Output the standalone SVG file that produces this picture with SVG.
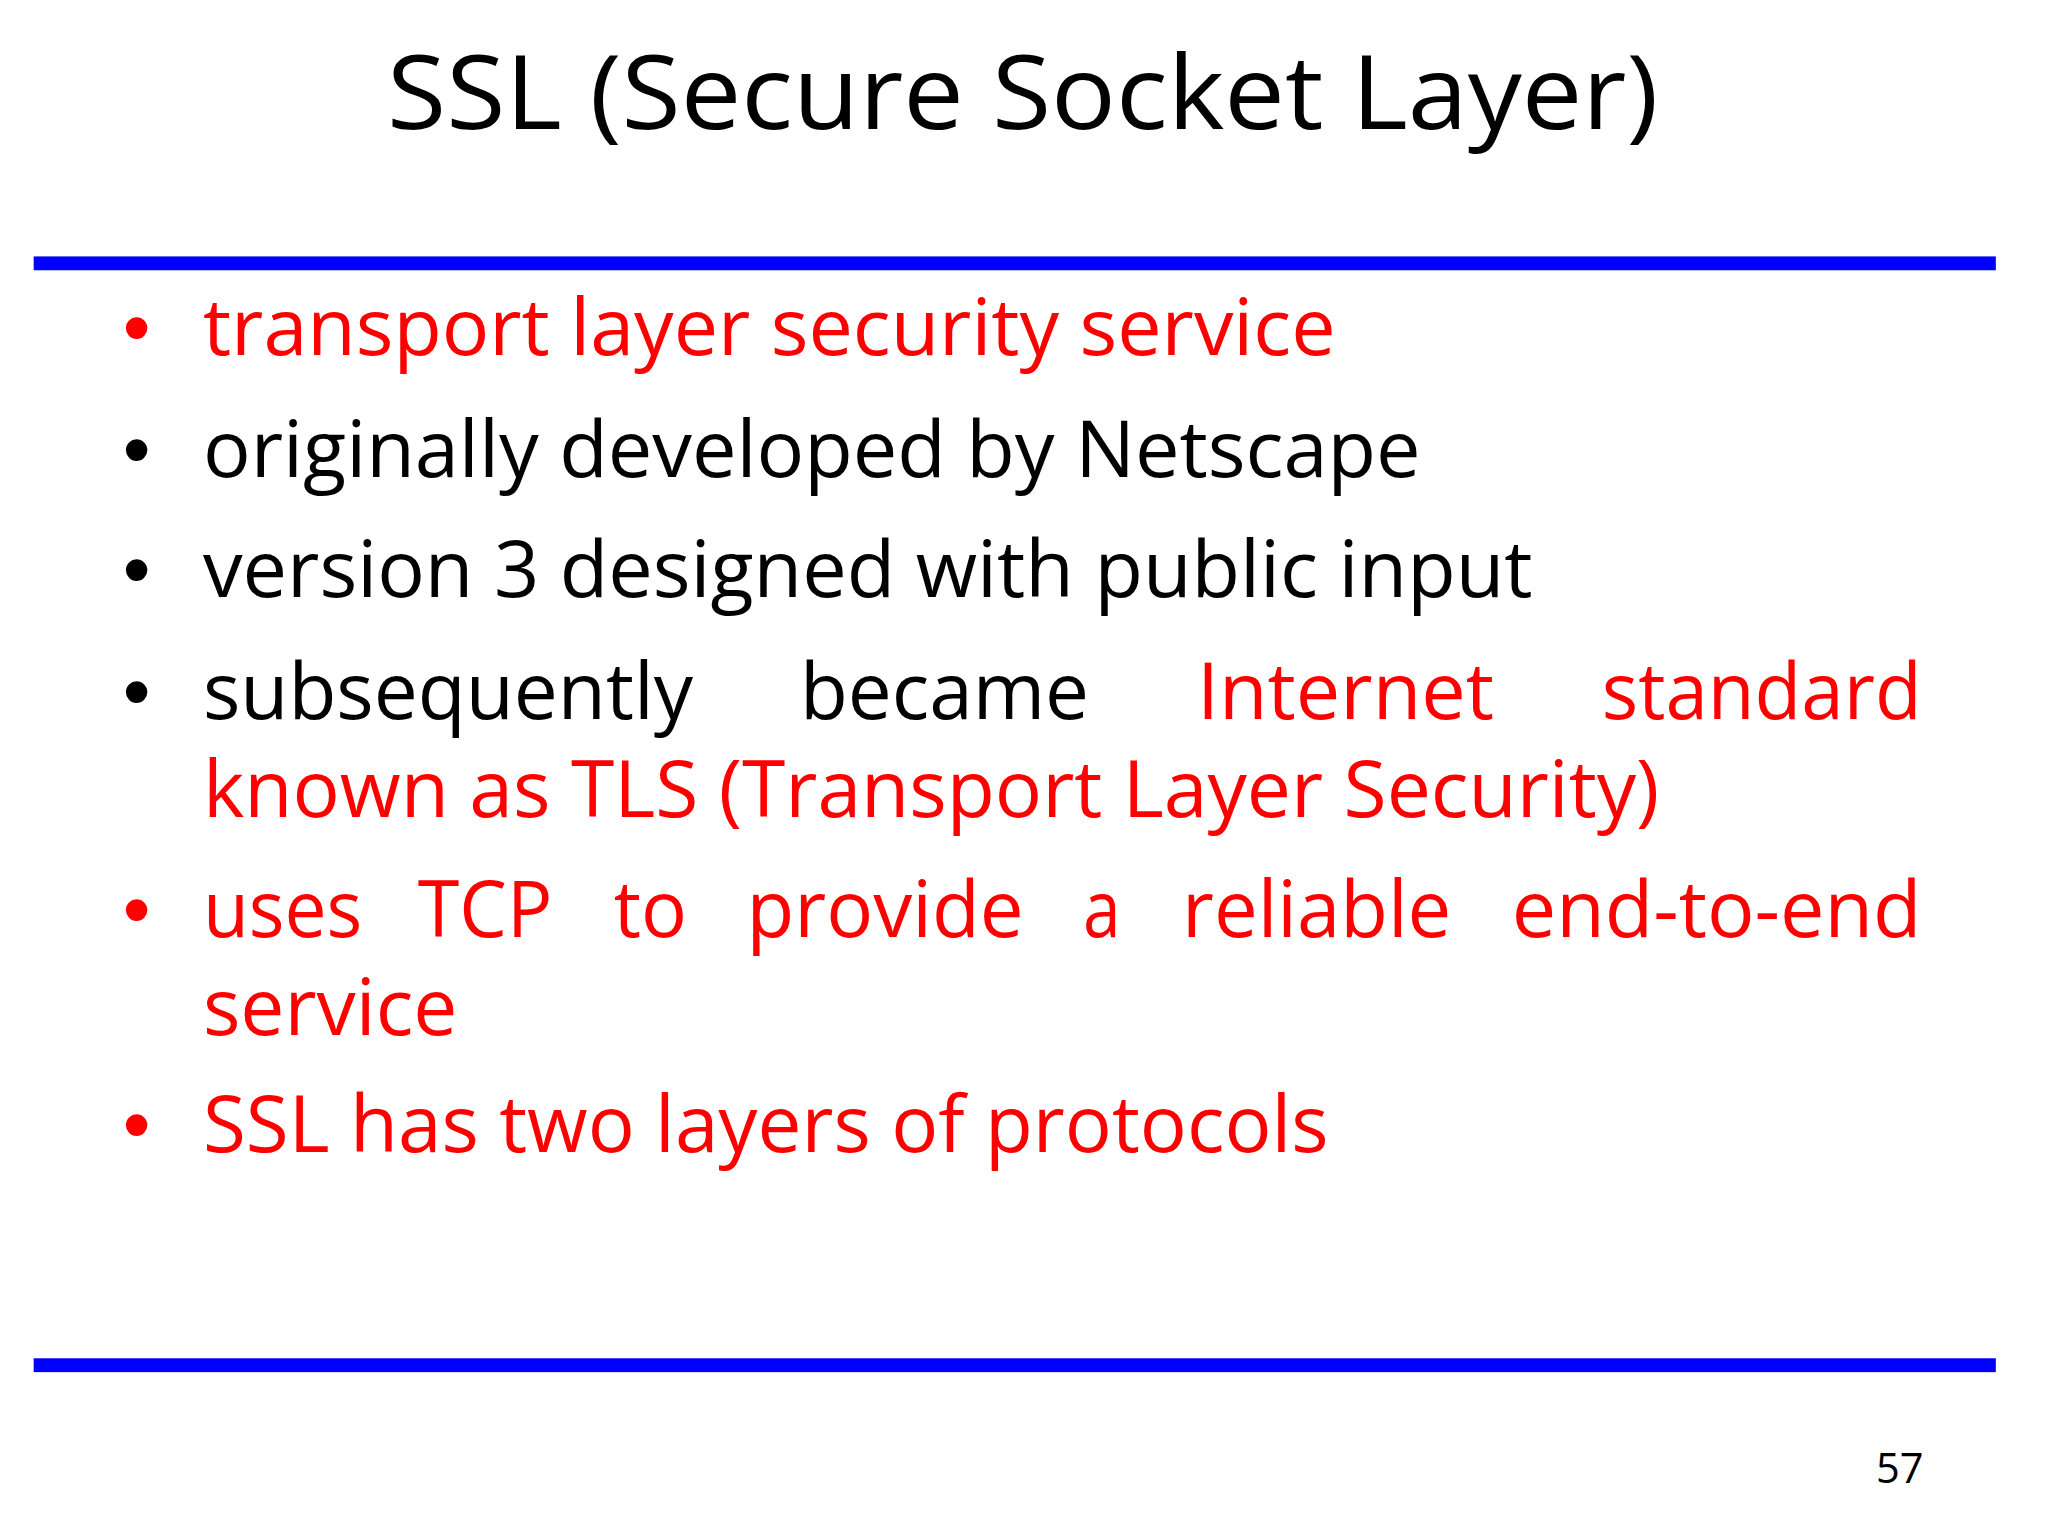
<svg xmlns="http://www.w3.org/2000/svg" width="2048" height="1536" viewBox="0 0 2048 1536">
<style>
.t{font-family:"Open Sans","Liberation Sans",sans-serif;font-size:80px}
.r{fill:#ff0000}.k{fill:#000}
.b{font-family:"Liberation Sans",sans-serif;font-size:80px}
</style>
<rect width="2048" height="1536" fill="#fff"/>
<g transform="scale(0.99)">
<text x="1033" y="130" text-anchor="middle" font-family="Open Sans,Liberation Sans,sans-serif" font-size="104" textLength="1284" lengthAdjust="spacingAndGlyphs">SSL (Secure Socket Layer)</text>
<rect x="34" y="259" width="1982" height="14" fill="#0000ff"/>
<rect x="34" y="1372" width="1982" height="14" fill="#0000ff"/>
<g id="bullets" class="b">
<text x="124" y="359" class="r">•</text>
<text x="124" y="482" class="k">•</text>
<text x="124" y="603" class="k">•</text>
<text x="124" y="726" class="k">•</text>
<text x="124" y="946" class="r">•</text>
<text x="124" y="1164" class="r">•</text>
</g>
<g id="text" class="t">
<text x="205" y="359" class="r" textLength="1144" lengthAdjust="spacingAndGlyphs">transport layer security service</text>
<text x="205" y="482" class="k" textLength="1230" lengthAdjust="spacingAndGlyphs">originally developed by Netscape</text>
<text x="205" y="603" class="k" textLength="1343" lengthAdjust="spacingAndGlyphs">version 3 designed with public input</text>
<text x="205" y="726" class="k" textLength="495" lengthAdjust="spacingAndGlyphs">subsequently</text>
<text x="808" y="726" class="k" textLength="292" lengthAdjust="spacingAndGlyphs">became</text>
<text x="1209" y="726" class="r" textLength="300" lengthAdjust="spacingAndGlyphs">Internet</text>
<text x="1618" y="726" class="r" textLength="323" lengthAdjust="spacingAndGlyphs">standard</text>
<text x="205" y="825" class="r" textLength="1471" lengthAdjust="spacingAndGlyphs">known as TLS (Transport Layer Security)</text>
<text x="205" y="946" class="r" textLength="161" lengthAdjust="spacingAndGlyphs">uses</text>
<text x="422" y="946" class="r" textLength="136" lengthAdjust="spacingAndGlyphs">TCP</text>
<text x="620" y="946" class="r" textLength="74" lengthAdjust="spacingAndGlyphs">to</text>
<text x="754" y="946" class="r" textLength="280" lengthAdjust="spacingAndGlyphs">provide</text>
<text x="1094" y="946" class="r" textLength="38" lengthAdjust="spacingAndGlyphs">a</text>
<text x="1194" y="946" class="r" textLength="272" lengthAdjust="spacingAndGlyphs">reliable</text>
<text x="1527" y="946" class="r" textLength="414" lengthAdjust="spacingAndGlyphs">end-to-end</text>
<text x="205" y="1045" class="r" textLength="257" lengthAdjust="spacingAndGlyphs">service</text>
<text x="205" y="1164" class="r" textLength="1137" lengthAdjust="spacingAndGlyphs">SSL has two layers of protocols</text>
</g>
<text x="1943" y="1498" text-anchor="end" font-family="Open Sans,Liberation Sans,sans-serif" font-size="42">57</text>
</g>
</svg>
